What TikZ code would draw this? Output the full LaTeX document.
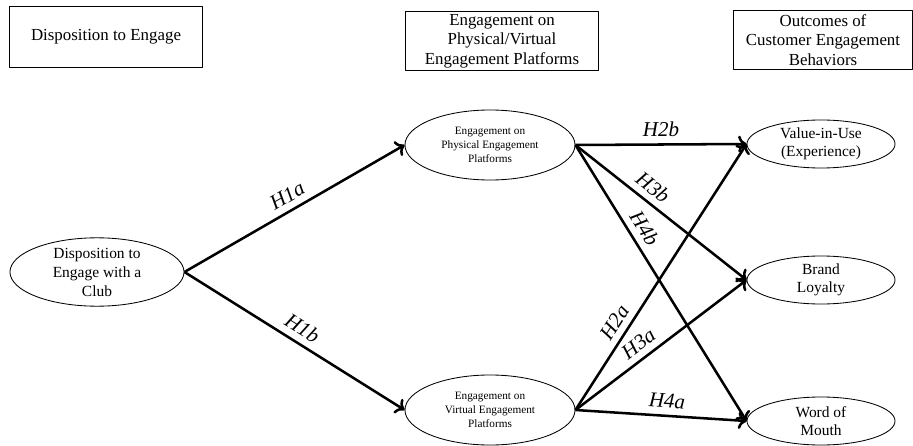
\documentclass[tikz,border=0pt]{standalone}
\usepackage{fontspec}
\setmainfont{Liberation Serif}
\usetikzlibrary{shapes.geometric,arrows.meta}
\begin{document}
\begin{tikzpicture}[x=0.025cm,y=-0.025cm,line join=round,>={To[length=6pt,width=12pt]},
	hdr/.style={draw,line width=0.7pt,rectangle,align=center,inner sep=0pt,font=\fontsize{12}{14}\selectfont},
	cst/.style={draw,line width=0.6pt,ellipse,align=center,inner sep=0pt},
	hyp/.style={->,line width=1.8pt},
	lbl/.style={sloped,above,inner sep=4.5pt,font=\fontsize{15}{17}\selectfont\itshape}]
	\useasboundingbox (0,0) rectangle (913,446);
	% column headings
	\node[hdr,minimum width=4.83cm,minimum height=1.5cm] (hdsp) at (106,37) {Disposition to Engage};
	\node[hdr,minimum width=4.8cm,minimum height=1.45cm] (hplt) at (502,41) {Engagement on\\Physical/Virtual\\Engagement Platforms};
	\node[hdr,minimum width=4.45cm,minimum height=1.48cm] (hout) at (823,40) {Outcomes of\\Customer Engagement\\Behaviors};
	% constructs
	\node[cst,minimum width=4.35cm,minimum height=1.53cm,font=\fontsize{11}{13.5}\selectfont] (dsp) at (97,272) {Disposition to\\Engage with a\\Club};
	\node[cst,minimum width=4.25cm,minimum height=1.75cm,font=\fontsize{8}{10}\selectfont] (phy) at (490,145) {Engagement on\\Physical Engagement\\Platforms};
	\node[cst,minimum width=4.25cm,minimum height=1.75cm,font=\fontsize{8}{10}\selectfont] (vir) at (490,410) {Engagement on\\Virtual Engagement\\Platforms};
	\node[cst,minimum width=3.7cm,minimum height=1.2cm,font=\fontsize{11}{13}\selectfont] (val) at (821,144) {Value-in-Use\\(Experience)};
	\node[cst,minimum width=3.7cm,minimum height=1.2cm,font=\fontsize{11}{13}\selectfont] (loy) at (821,280) {Brand\\Loyalty};
	\node[cst,minimum width=3.7cm,minimum height=1.2cm,font=\fontsize{11}{13}\selectfont] (wom) at (821,421) {Word of\\Mouth};
	% hypotheses
	\draw[hyp] (dsp.east)--(phy.west) node[lbl,pos=0.5]{H1a};
	\draw[hyp] (dsp.east)--(vir.west) node[lbl,pos=0.5]{H1b};
	\draw[hyp] (phy.east)--(val.west) node[lbl,pos=0.5]{H2b};
	\draw[hyp] (phy.east)--(loy.west) node[lbl,pos=0.4]{H3b};
	\draw[hyp] (phy.east)--(wom.west) node[lbl,pos=0.33]{H4b};
	\draw[hyp] (vir.east)--(val.west) node[lbl,pos=0.3]{H2a};
	\draw[hyp] (vir.east)--(loy.west) node[lbl,pos=0.42]{H3a};
	\draw[hyp] (vir.east)--(wom.west) node[lbl,pos=0.53]{H4a};
\end{tikzpicture}
\end{document}
